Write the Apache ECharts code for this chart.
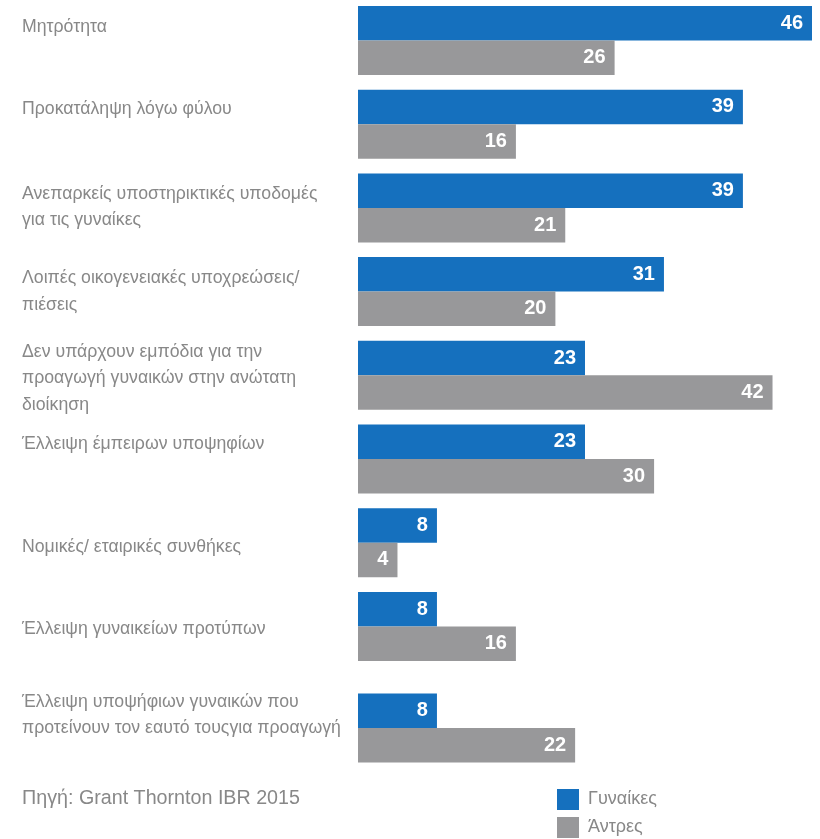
<!DOCTYPE html>
<html><head><meta charset="utf-8">
<script src="https://cdn.jsdelivr.net/npm/echarts@6/dist/echarts.min.js"></script>
<style>html,body{margin:0;padding:0;background:#fff}#c{width:820px;height:839px}</style>
</head><body><div id="c"></div>
<script>
const categories = [
  'Μητρότητα',
  'Προκατάληψη λόγω φύλου',
  'Ανεπαρκείς υποστηρικτικές υποδομές\nγια τις γυναίκες',
  'Λοιπές οικογενειακές υποχρεώσεις/\nπιέσεις',
  'Δεν υπάρχουν εμπόδια για την\nπροαγωγή γυναικών στην ανώτατη\nδιοίκηση',
  'Έλλειψη έμπειρων υποψηφίων',
  'Νομικές/ εταιρικές συνθήκες',
  'Έλλειψη γυναικείων προτύπων',
  'Έλλειψη υποψήφιων γυναικών που\nπροτείνουν τον εαυτό τουςγια προαγωγή'
];
const women = [46, 39, 39, 31, 23, 23, 8, 8, 8];
const men = [26, 16, 21, 20, 42, 30, 4, 16, 22];
const seriesNames = ['Γυναίκες', 'Άντρες'];
const sourceText = 'Πηγή: Grant Thornton IBR 2015';
// vertical label shift per category (px, negative = up)
const labelShift = [-13.5, -15, -1, 0, 3.3, -15, 4, 3, -13];

const BLUE = '#1570be', GRAY = '#98989a', TXT = '#888888';
const FONT = '"Liberation Sans", Arial, sans-serif';
const LABEL_FS = 17.7;
const LINE_H = 26.5;

// rich styles: text line + gap lines per category
const rich = { t: { color: TXT, fontSize: LABEL_FS, lineHeight: LINE_H, fontFamily: FONT } };
labelShift.forEach((s, i) => {
  rich['g' + i] = { fontSize: 1, lineHeight: Math.max(1, Math.abs(2 * s)) };
});
function labelFormatter(value) {
  const i = categories.indexOf(value);
  const s = labelShift[i] || 0;
  const body = value.split('\n').map(l => '{t|' + l + '}').join('\n');
  if (s < 0) return body + '\n{g' + i + '| }';
  if (s > 0) return '{g' + i + '| }\n' + body;
  return body;
}

const band = 83.7;
const barW = 34.5;
const gridBase = { left: 358, right: 8, containLabel: false, outerBoundsMode: 'none' };
const grids = [
  Object.assign({ top: -1.35, height: band * 8 }, gridBase),
  Object.assign({ top: 728 - band / 2, height: band }, gridBase)
];
const label = {
  show: true, position: 'insideRight', distance: 9,
  color: '#fff', fontWeight: 'bold', fontSize: 20, fontFamily: FONT
};
const yAxisBase = {
  type: 'category', inverse: true,
  axisLine: { show: false }, axisTick: { show: false }, splitLine: { show: false },
  axisLabel: { align: 'left', verticalAlign: 'middle', margin: 336, color: TXT,
    fontSize: LABEL_FS, lineHeight: LINE_H, fontFamily: FONT, formatter: labelFormatter, rich }
};
const xAxisBase = { type: 'value', min: 0, max: 46, show: false };

const option = {
  animation: false,
  title: {
    text: sourceText, left: 22, top: 789, padding: 0,
    textStyle: { color: TXT, fontSize: 19.7, fontWeight: 'normal', fontFamily: FONT }
  },
  legend: {
    orient: 'vertical', left: 557, top: 789, padding: 0, itemWidth: 22, itemHeight: 21, itemGap: 7,
    icon: 'rect', data: seriesNames,
    textStyle: { color: TXT, fontSize: 18, fontFamily: FONT, padding: [0, 0, 0, 4] }
  },
  grid: grids,
  xAxis: [Object.assign({ gridIndex: 0 }, xAxisBase), Object.assign({ gridIndex: 1 }, xAxisBase)],
  yAxis: [
    Object.assign({ gridIndex: 0, data: categories.slice(0, 8) }, yAxisBase),
    Object.assign({ gridIndex: 1, data: categories.slice(8) }, yAxisBase)
  ],
  series: [
    { name: seriesNames[0], type: 'bar', xAxisIndex: 0, yAxisIndex: 0, data: women.slice(0, 8),
      barWidth: barW, barGap: '0%', itemStyle: { color: BLUE }, label },
    { name: seriesNames[1], type: 'bar', xAxisIndex: 0, yAxisIndex: 0, data: men.slice(0, 8),
      barWidth: barW, barGap: '0%', itemStyle: { color: GRAY }, label },
    { name: seriesNames[0], type: 'bar', xAxisIndex: 1, yAxisIndex: 1, data: women.slice(8),
      barWidth: barW, barGap: '0%', itemStyle: { color: BLUE }, label },
    { name: seriesNames[1], type: 'bar', xAxisIndex: 1, yAxisIndex: 1, data: men.slice(8),
      barWidth: barW, barGap: '0%', itemStyle: { color: GRAY }, label }
  ]
};
echarts.init(document.getElementById('c')).setOption(option);
</script>
</body></html>
